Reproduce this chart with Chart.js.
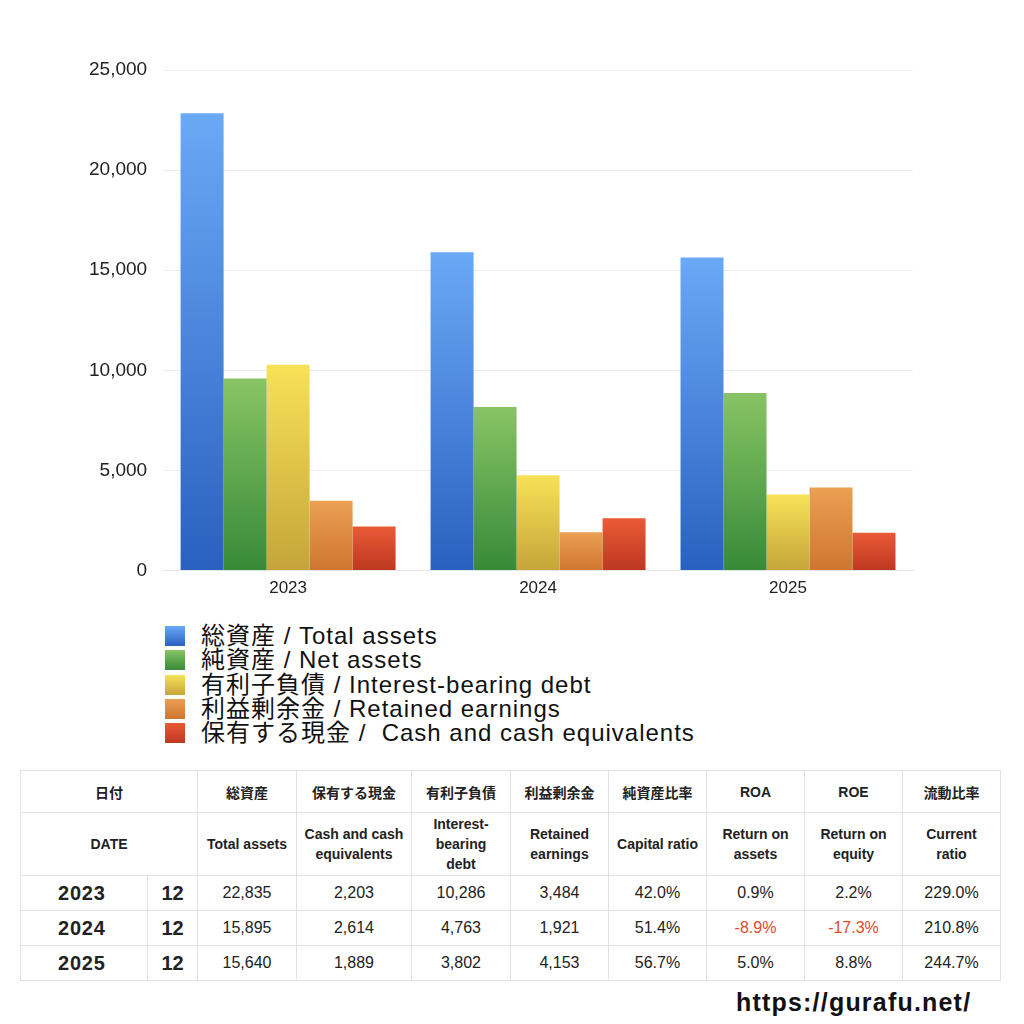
<!DOCTYPE html>
<html>
<head>
<meta charset="utf-8">
<script src="https://cdn.jsdelivr.net/npm/chart.js@4"></script>
<style>
  body { margin: 0; background: #fff; font-family: "Liberation Sans", "Noto Sans CJK JP", sans-serif; }
  #wrap { position: relative; width: 1024px; height: 1024px; }
  #chartBox { position: absolute; left: 0; top: 0; width: 1024px; height: 610px; }
  #legend { position: absolute; left: 165px; top: 624px; font-size: 24px; letter-spacing: 1px; line-height: 24.3px; color: #111; }
  #legend .item { display: flex; align-items: center; white-space: pre; }
  #legend .box { width: 20px; height: 20px; margin-right: 16px; }
  table { position: absolute; left: 20px; top: 770px; width: 980px; border-collapse: collapse; table-layout: fixed; font-size: 15px; color: #222; }
  td, th { border: 1px solid #e2e2e2; text-align: center; padding: 0; }
  th { font-weight: bold; font-size: 14px; }
  .h1 th { height: 41px; }
  .h2 th { height: 62px; line-height: 20px; }
  .row td { height: 34px; font-size: 16px; }
  .row td.yr { font-weight: bold; font-size: 20px; letter-spacing: 0.8px; text-align: left; padding-left: 37px; }
  .row td.mo { font-weight: bold; font-size: 20px; }
  .neg { color: #e04a2a; }
  #url { position: absolute; left: 736px; top: 988px; font-size: 25px; letter-spacing: 1.2px; font-weight: bold; color: #111; }
</style>
</head>
<body>
<div id="wrap">
  <div id="chartBox"><canvas id="bsChart"></canvas></div>
  <div id="legend"></div>
  <table id="tbl"></table>
  <div id="url">https://gurafu.net/</div>
</div>
<script>
// データ
const years = ['2023', '2024', '2025'];
const totalAssets = [22835, 15895, 15640];
const netAssets = [9591, 8170, 8868];
const interestDebt = [10286, 4763, 3802];
const retainedEarnings = [3484, 1921, 4153];
const cashEquivalents = [2203, 2614, 1889];
const yTicks = [0, 5000, 10000, 15000, 20000, 25000];

const seriesLabels = [
    '総資産 / Total assets',
    '純資産 / Net assets',
    '有利子負債 / Interest-bearing debt',
    '利益剰余金 / Retained earnings',
    '保有する現金 /  Cash and cash equivalents'
];
// 上→下のグラデーション
const seriesColors = [
    ['#6aa9f6', '#2a60c0'],
    ['#88c465', '#378a38'],
    ['#f7e257', '#c6a43a'],
    ['#eba052', '#cf7530'],
    ['#ea5a36', '#bd3722']
];

// テーブル用
const months = ['12', '12', '12'];
const capitalRatio = ['42.0%', '51.4%', '56.7%'];
const roa = ['0.9%', '-8.9%', '5.0%'];
const roe = ['2.2%', '-17.3%', '8.8%'];
const currentRatio = ['229.0%', '210.8%', '244.7%'];

// 棒ごとのグラデーション（棒の上端→下端）
function gradientFor(idx) {
    return function (context) {
        const chart = context.chart;
        const area = chart.chartArea;
        if (!area || !chart.scales.y || context.type !== 'data') return seriesColors[idx][0];
        const top = chart.scales.y.getPixelForValue(context.raw);
        const g = chart.ctx.createLinearGradient(0, top, 0, area.bottom);
        g.addColorStop(0, seriesColors[idx][0]);
        g.addColorStop(1, seriesColors[idx][1]);
        return g;
    };
}

const seriesData = [totalAssets, netAssets, interestDebt, retainedEarnings, cashEquivalents];
const datasets = seriesData.map((d, i) => ({
    label: seriesLabels[i],
    data: d,
    backgroundColor: gradientFor(i),
    borderWidth: 0,
    categoryPercentage: 0.86,
    barPercentage: 1.0
}));

new Chart(document.getElementById('bsChart').getContext('2d'), {
    type: 'bar',
    data: { labels: years, datasets: datasets },
    options: {
        responsive: true,
        maintainAspectRatio: false,
        animation: false,
        layout: { padding: { left: 73, right: 111, top: 70, bottom: 11 } },
        scales: {
            x: {
                grid: { display: false },
                border: { color: '#e6e6e6' },
                ticks: { color: '#222', font: { size: 17, family: 'Liberation Sans' }, padding: 0 }
            },
            y: {
                min: 0, max: 25000,
                afterBuildTicks: (axis) => { axis.ticks = yTicks.map(v => ({ value: v })); },
                grid: { color: '#ececec', drawTicks: false },
                border: { display: false },
                ticks: {
                    color: '#222',
                    padding: 16,
                    font: { size: 19, family: 'Liberation Sans' },
                    callback: (v) => v.toLocaleString('en-US')
                }
            }
        },
        plugins: { legend: { display: false }, tooltip: { enabled: false } }
    }
});

// 凡例
const legend = document.getElementById('legend');
seriesLabels.forEach((lab, i) => {
    legend.innerHTML += `<div class="item"><span class="box" style="background:linear-gradient(${seriesColors[i][0]}, ${seriesColors[i][1]})"></span>${lab}</div>`;
});

// テーブル
const fmt = (v) => v.toLocaleString('en-US');
let html = `<colgroup><col style="width:127px"><col style="width:50px"><col style="width:99px"><col style="width:115px"><col style="width:99px"><col style="width:98px"><col style="width:98px"><col style="width:98px"><col style="width:98px"><col style="width:98px"></colgroup>`;
html += `<tr class="h1"><th colspan="2">日付</th><th>総資産</th><th>保有する現金</th><th>有利子負債</th><th>利益剰余金</th><th>純資産比率</th><th>ROA</th><th>ROE</th><th>流動比率</th></tr>`;
html += `<tr class="h2"><th colspan="2">DATE</th><th>Total assets</th><th>Cash and cash<br>equivalents</th><th>Interest-<br>bearing<br>debt</th><th>Retained<br>earnings</th><th>Capital ratio</th><th>Return on<br>assets</th><th>Return on<br>equity</th><th>Current<br>ratio</th></tr>`;
years.forEach((y, i) => {
    const neg = (s) => s.startsWith('-') ? ' class="neg"' : '';
    html += `<tr class="row"><td class="yr">${y}</td><td class="mo">${months[i]}</td><td>${fmt(totalAssets[i])}</td><td>${fmt(cashEquivalents[i])}</td><td>${fmt(interestDebt[i])}</td><td>${fmt(retainedEarnings[i])}</td><td>${capitalRatio[i]}</td><td${neg(roa[i])}>${roa[i]}</td><td${neg(roe[i])}>${roe[i]}</td><td>${currentRatio[i]}</td></tr>`;
});
document.getElementById('tbl').innerHTML = html;
</script>
</body>
</html>
